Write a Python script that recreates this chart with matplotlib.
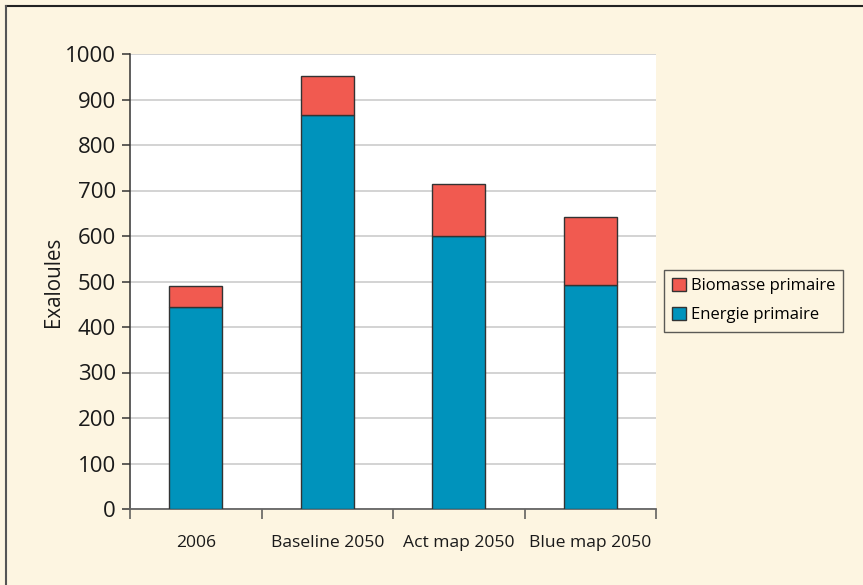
import numpy as np
import matplotlib.pyplot as plt
from matplotlib.lines import Line2D

categories = ['2006', 'Baseline 2050', 'Act map 2050', 'Blue map 2050']
energie = [444, 866, 600, 492]
biomasse = [46, 85, 114, 150]
yticks = list(range(0, 1001, 100))

bg = '#FDF5E1'
blue = '#0093BC'
red = '#F15A50'

plt.rcParams['font.family'] = ['Open Sans', 'DejaVu Sans']

fig = plt.figure(figsize=(8.63, 5.85), dpi=100, facecolor=bg)
ax = fig.add_axes([130/863, 1-509/585, 526/863, 455/585])
ax.set_facecolor('white')

x = np.arange(len(categories))
w = 0.4
ax.bar(x, energie, w, color=blue, edgecolor='#333333', linewidth=1.0,
       label='Energie primaire', zorder=3)
ax.bar(x, biomasse, w, bottom=energie, color=red, edgecolor='#333333',
       linewidth=1.0, label='Biomasse primaire', zorder=3)

ax.set_xlim(-0.5, len(categories) - 0.5)
ax.set_ylim(0, 1000)
ax.set_yticks(yticks)
ax.tick_params(axis='y', labelsize=16, length=6, width=1.1, color='#333333',
               pad=4, labelcolor='#1a1a1a')
ax.yaxis.grid(True, color='#c8c8c8', linewidth=1.1, zorder=0)

# category labels centred, tick marks on the boundaries
ax.set_xticks(x)
ax.set_xticklabels(categories)
ax.tick_params(axis='x', which='major', length=0, pad=19, labelsize=12.6,
               labelcolor='#1a1a1a')
ax.set_xticks(np.arange(-0.5, len(categories)), minor=True)
ax.tick_params(axis='x', which='minor', length=7, width=1.1, color='#555555')

for s in ['top', 'right']:
    ax.spines[s].set_visible(False)
ax.spines['left'].set_color('#333333')
ax.spines['left'].set_linewidth(1.1)
ax.spines['bottom'].set_color('#666666')
ax.spines['bottom'].set_linewidth(1.3)

ax.set_ylabel('Exaloules', fontsize=14.8, color='#1a1a1a', labelpad=1)

handles, labels = ax.get_legend_handles_labels()
leg = fig.legend(handles[::-1], labels[::-1], loc='upper left',
                 bbox_to_anchor=(664/863, 1-270/585), fontsize=12,
                 frameon=True, fancybox=False, edgecolor='#333333',
                 facecolor=bg, handlelength=0.8, handleheight=0.8,
                 handletextpad=0.3, borderpad=0.5, labelspacing=0.75,
                 borderaxespad=0)
leg.get_frame().set_linewidth(1.0)

# frame lines top and left
fig.add_artist(Line2D([6/863, 1], [1-6/585, 1-6/585], color='#222222', lw=1.5))
fig.add_artist(Line2D([6/863, 6/863], [0, 1-6/585], color='#555555', lw=1.5))

fig.savefig('out.png', dpi=100, facecolor=bg)
